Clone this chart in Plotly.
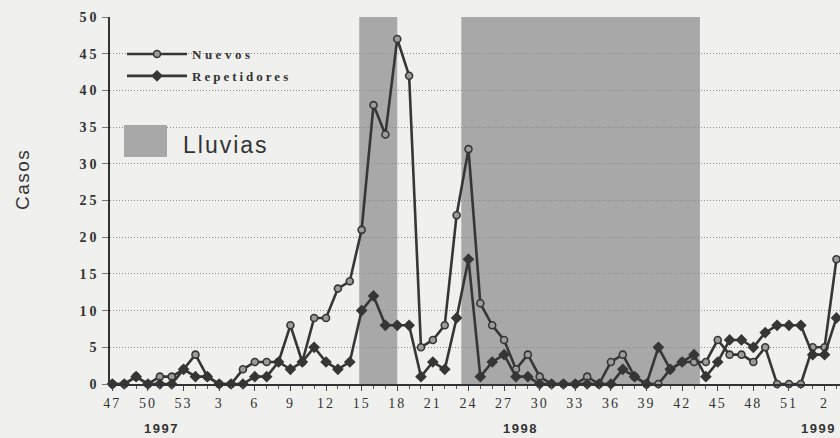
import plotly.graph_objects as go

# ---- data -------------------------------------------------------------
weeks_1997 = list(range(47, 54))
weeks_1998 = list(range(1, 53))
weeks_1999 = [1, 2, 3]

nuevos_1997 = [0, 0, 1, 0, 1, 1, 2]
nuevos_1998 = [4, 1, 0, 0, 2, 3, 3, 3, 8, 3,
               9, 9, 13, 14, 21, 38, 34, 47, 42, 5,
               6, 8, 23, 32, 11, 8, 6, 2, 4, 1,
               0, 0, 0, 1, 0, 3, 4, 1, 0, 0,
               2, 3, 3, 3, 6, 4, 4, 3, 5, 0,
               0, 0]
nuevos_1999 = [5, 5, 17]

rep_1997 = [0, 0, 1, 0, 0, 0, 2]
rep_1998 = [1, 1, 0, 0, 0, 1, 1, 3, 2, 3,
            5, 3, 2, 3, 10, 12, 8, 8, 8, 1,
            3, 2, 9, 17, 1, 3, 4, 1, 1, 0,
            0, 0, 0, 0, 0, 0, 2, 1, 0, 5,
            2, 3, 4, 1, 3, 6, 6, 5, 7, 8,
            8, 8]
rep_1999 = [4, 4, 9]

# rainy periods, in 1998 week units
rain_start_1998 = [14.8, 23.4]
rain_end_1998 = [18.0, 43.5]

years = ["1997", "1998", "1999"]
yticks = [0, 5, 10, 15, 20, 25, 30, 35, 40, 45, 50]

# ---- geometry helpers (body margin removed by post script) ----------------
L, T, B, R = 110, 17, 384, 840
W, H = 840, 438
PW, PH = R - L, B - T


def px_x(page_x):
    return (page_x - L) / PW


def px_y(page_y):
    return 1 - (page_y - T) / PH


def spaced(txt, sp, bold=False):
    s = '<span style="letter-spacing:%spx">%s</span>' % (sp, txt)
    return "<b>%s</b>" % s if bold else s


# ---- build --------------------------------------------------------------
week_labels = [str(w) for w in weeks_1997 + weeks_1998 + weeks_1999]
x = list(range(len(week_labels)))
nuevos = nuevos_1997 + nuevos_1998 + nuevos_1999
rep = rep_1997 + rep_1998 + rep_1999
off98 = len(weeks_1997) - 1  # index of 1998 week w = off98 + w

tickvals = x[::3]
ticktext = [spaced(week_labels[i], 2) for i in tickvals]

fig = go.Figure()

line_col = "#363636"
fig.add_trace(go.Scatter(
    x=x, y=nuevos, name=spaced("Nuevos", 3.5, True),
    mode="lines+markers", legendgroup="n", cliponaxis=False,
    line=dict(color=line_col, width=2.6),
    marker=dict(symbol="circle", size=7, color="#9c9c9c",
                line=dict(color=line_col, width=1.6)),
))
fig.add_trace(go.Scatter(
    x=x, y=rep, name=spaced("Repetidores", 3, True),
    mode="lines+markers", legendgroup="r", cliponaxis=False,
    line=dict(color=line_col, width=2.6),
    marker=dict(symbol="diamond", size=9, color=line_col),
))

band_col = "rgb(168,168,168)"
for s, e in zip(rain_start_1998, rain_end_1998):
    fig.add_shape(type="rect", xref="x", yref="paper",
                  x0=off98 + s, x1=off98 + e, y0=0, y1=1,
                  fillcolor=band_col, line=dict(width=0), layer="below")

# legend box for rain
fig.add_shape(type="rect", xref="paper", yref="paper",
              x0=px_x(124), x1=px_x(167), y0=px_y(157), y1=px_y(125),
              fillcolor=band_col, line=dict(width=0))
fig.add_annotation(text=spaced("Lluvias", 2),
                   xref="paper", yref="paper",
                   x=px_x(181), y=px_y(145),
                   xanchor="left", yanchor="middle", showarrow=False,
                   font=dict(family="Liberation Sans", size=23, color="#333"))

# y title
fig.add_annotation(text=spaced("Casos", 1.5), xref="paper", yref="paper",
                   x=px_x(22), y=px_y(180),
                   textangle=-90, showarrow=False, xanchor="center", yanchor="middle",
                   font=dict(family="Liberation Sans", size=19, color="#333"))

# year labels
year_pos = [4.1, 34.4, 59.5]
for yr, pos in zip(years, year_pos):
    fig.add_annotation(text=spaced(yr, 1.5, True), x=pos, xref="x", yref="paper",
                       y=px_y(428), yanchor="middle", showarrow=False,
                       font=dict(family="Liberation Sans", size=13, color="#333"))

fig.update_layout(
    width=W, height=H,
    margin=dict(l=L, r=W - R, t=T, b=H - B),
    paper_bgcolor="#f0f0ee", plot_bgcolor="#f0f0ee",
    showlegend=True,
    legend=dict(x=px_x(122), y=px_y(39),
                xanchor="left", yanchor="top", bgcolor="rgba(0,0,0,0)",
                tracegroupgap=2, itemwidth=60,
                font=dict(family="Liberation Serif", size=13, color="#333")),
    xaxis=dict(range=[-0.2, 61.3], tickmode="array", tickvals=tickvals,
               ticktext=ticktext, showgrid=False, zeroline=False,
               showline=True, linecolor="#333", linewidth=1.5,
               ticks="outside", ticklen=5, tickcolor="#444",
               minor=dict(dtick=1, ticks="outside", ticklen=3, tickcolor="#555"),
               tickfont=dict(family="Liberation Serif", size=14, color="#333")),
    yaxis=dict(range=[0, 50], tickmode="array", tickvals=yticks,
               ticktext=[spaced(v, 3, True) for v in yticks],
               showgrid=True, gridcolor="#8a8a8a", griddash="1px,2px", gridwidth=1,
               zeroline=False, showline=True, linecolor="#333", linewidth=1.5,
               ticks="outside", ticklen=6, tickcolor="#777",
               tickfont=dict(family="Liberation Serif", size=14, color="#333")),
)

fig.write_html("out.html", config={"displayModeBar": False},
               post_script="document.body.style.margin='0';"
                           "document.body.style.overflow='hidden';")
